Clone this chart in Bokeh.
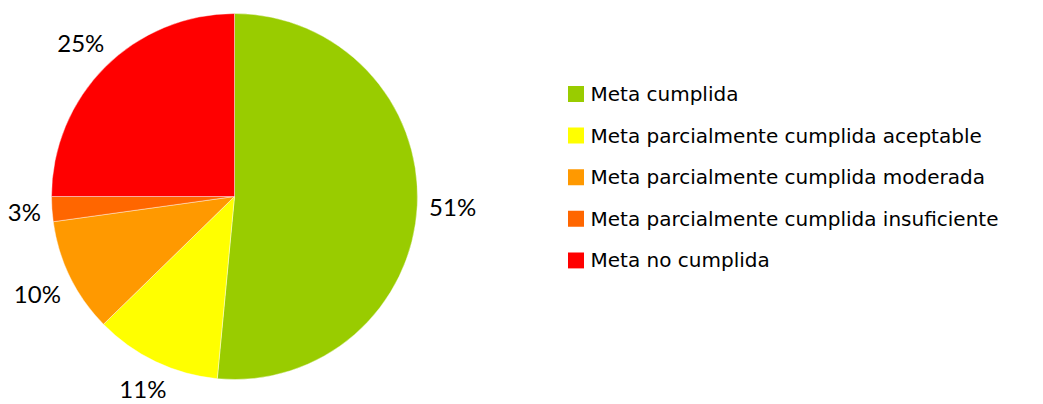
import numpy as np
from bokeh.plotting import figure
from bokeh.models import Range1d, ColumnDataSource
from bokeh.core.properties import value
from bokeh.embed import file_html
from bokeh.resources import INLINE

categories = [
    "Meta cumplida",
    "Meta parcialmente cumplida aceptable",
    "Meta parcialmente cumplida  moderada",
    "Meta parcialmente cumplida insuficiente",
    "Meta no cumplida",
]
values = [51.5, 11.2, 10.1, 2.2, 25.0]
labels = ["51%", "11%", "10%", "3%", "25%"]
colors = ["#99CC00", "#FFFF00", "#FF9900", "#FF6600", "#FF0000"]

W, H = 1043, 404
p = figure(width=W, height=H, output_backend="svg", toolbar_location=None,
           x_range=Range1d(0, W), y_range=Range1d(0, H),
           min_border=0, outline_line_color=None)
p.axis.visible = False
p.grid.visible = False
p.background_fill_color = "white"
p.border_fill_color = "white"

cx, cy, R = 234, H - 196, 183
vals = np.array(values)
frac = vals / vals.sum()
cum = np.concatenate([[0], np.cumsum(frac)])
start = np.pi / 2 - 2 * np.pi * cum[:-1]
end = np.pi / 2 - 2 * np.pi * cum[1:]
mid = (start + end) / 2

src = ColumnDataSource(dict(start=start, end=end, color=colors))
p.wedge(x=cx, y=cy, radius=R, start_angle="start", end_angle="end",
        direction="clock", fill_color="color", line_color="white",
        line_width=0.6, line_alpha=0.7, source=src)

# outside labels: keep a fixed gap between the pie edge and the label box
hw = np.array([len(t) * 8.0 for t in labels])
hh = 9.0
dist = R + 11 + np.abs(np.cos(mid)) * hw + np.abs(np.sin(mid)) * hh
lsrc = ColumnDataSource(dict(x=cx + dist * np.cos(mid), y=cy + dist * np.sin(mid), t=labels))
p.text(x="x", y="y", text="t", source=lsrc, text_font=value("Lato"),
       text_font_size="24px", text_align="center", text_baseline="middle",
       text_color="#000000")

# legend
ly0, dy = H - 93.5, 41.6
ly = [ly0 - i * dy for i in range(len(categories))]
p.rect(x=[575.5] * len(categories), y=ly, width=16, height=16,
       fill_color=colors, line_color=None)
p.text(x=[590] * len(categories), y=ly, text=categories,
       text_font=value("DejaVu Sans"), text_font_size="20px",
       text_align="left", text_baseline="middle", text_color="#000000")

open("out.html", "w").write(file_html(p, INLINE))
